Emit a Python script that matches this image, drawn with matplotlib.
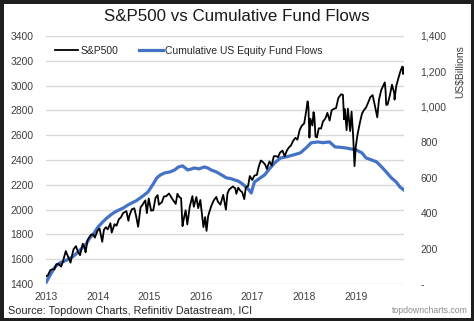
import numpy as np
import pandas as pd
import matplotlib
matplotlib.use("Agg")
import matplotlib.pyplot as plt
import matplotlib.dates as mdates
from matplotlib.ticker import FuncFormatter

plt.rcParams['font.family'] = ['Liberation Sans', 'DejaVu Sans']

# S&P500 (approx. semi-monthly, with the main dips)
spx_dates = [
    "2013-01-02", "2013-01-15", "2013-02-01", "2013-02-15", "2013-03-01", "2013-03-15",
    "2013-04-01", "2013-04-18", "2013-05-01", "2013-05-21", "2013-06-03", "2013-06-24",
    "2013-07-01", "2013-07-15", "2013-08-01", "2013-08-15", "2013-08-30", "2013-09-18",
    "2013-10-01", "2013-10-08", "2013-10-22", "2013-11-15", "2013-12-01", "2013-12-13",
    "2014-01-01", "2014-01-15", "2014-02-03", "2014-02-15", "2014-03-01", "2014-03-14",
    "2014-04-02", "2014-04-11", "2014-05-01", "2014-05-15", "2014-06-01", "2014-06-15",
    "2014-07-01", "2014-07-24", "2014-08-07", "2014-08-15", "2014-09-01", "2014-09-18",
    "2014-10-01", "2014-10-15", "2014-11-01", "2014-11-15", "2014-12-05", "2014-12-16",
    "2014-12-29", "2015-01-15", "2015-01-30", "2015-02-15", "2015-03-02", "2015-03-11",
    "2015-04-01", "2015-04-15", "2015-05-01", "2015-05-21", "2015-06-01", "2015-06-15",
    "2015-07-08", "2015-07-20", "2015-08-01", "2015-08-15", "2015-08-25", "2015-09-01",
    "2015-09-16", "2015-09-28", "2015-10-15", "2015-11-03", "2015-11-13", "2015-12-01",
    "2015-12-14", "2015-12-29", "2016-01-20", "2016-02-01", "2016-02-11", "2016-02-22",
    "2016-03-01", "2016-03-15", "2016-04-01", "2016-04-20", "2016-05-01", "2016-05-19",
    "2016-06-08", "2016-06-27", "2016-07-08", "2016-07-20", "2016-08-01", "2016-08-15",
    "2016-09-01", "2016-09-09", "2016-09-22", "2016-10-07", "2016-10-20", "2016-11-04",
    "2016-11-15", "2016-12-01", "2016-12-13", "2016-12-30", "2017-01-15", "2017-02-01",
    "2017-02-15", "2017-03-01", "2017-03-15", "2017-04-01", "2017-04-13", "2017-05-01",
    "2017-05-17", "2017-06-01", "2017-06-15", "2017-07-01", "2017-07-15", "2017-08-01",
    "2017-08-17", "2017-09-01", "2017-09-15", "2017-10-01", "2017-10-15", "2017-11-01",
    "2017-11-15", "2017-12-01", "2017-12-15", "2018-01-02", "2018-01-15", "2018-01-26",
    "2018-02-01", "2018-02-08", "2018-02-15", "2018-03-01", "2018-03-09", "2018-03-15",
    "2018-03-23", "2018-04-02", "2018-04-15", "2018-05-01", "2018-05-15", "2018-06-01",
    "2018-06-15", "2018-07-01", "2018-07-15", "2018-08-01", "2018-08-15", "2018-09-01",
    "2018-09-20", "2018-10-03", "2018-10-11", "2018-10-17", "2018-10-29", "2018-11-07",
    "2018-11-23", "2018-12-03", "2018-12-14", "2018-12-24", "2019-01-02", "2019-01-15",
    "2019-02-01", "2019-02-15", "2019-03-01", "2019-03-15", "2019-04-01", "2019-04-15",
    "2019-05-01", "2019-05-15", "2019-06-03", "2019-06-15", "2019-07-01", "2019-07-26",
    "2019-08-01", "2019-08-05", "2019-08-15", "2019-09-01", "2019-09-15", "2019-10-01",
    "2019-10-03", "2019-10-15", "2019-11-01", "2019-11-15", "2019-11-27", "2019-12-03",
    "2019-12-06",
]
spx_values = [
    1462, 1472, 1513, 1519, 1518, 1560,
    1562, 1541, 1582, 1666, 1631, 1573,
    1614, 1680, 1706, 1661, 1633, 1725,
    1695, 1656, 1754, 1798, 1800, 1775,
    1831, 1848, 1741, 1838, 1859, 1841,
    1890, 1815, 1883, 1870, 1924, 1937,
    1973, 1988, 1910, 1955, 2003, 2011,
    1946, 1862, 2018, 2039, 2075, 1972,
    2090, 1992, 1995, 2096, 2117, 2040,
    2060, 2106, 2108, 2130, 2111, 2084,
    2046, 2128, 2103, 2092, 1867, 1914,
    1995, 1881, 2023, 2109, 2023, 2102,
    2012, 2078, 1859, 1940, 1829, 1945,
    1978, 2027, 2073, 2102, 2065, 2040,
    2119, 2000, 2130, 2163, 2173, 2187,
    2171, 2128, 2177, 2153, 2141, 2085,
    2180, 2191, 2271, 2239, 2275, 2280,
    2349, 2396, 2385, 2363, 2328, 2388,
    2357, 2430, 2432, 2423, 2460, 2476,
    2430, 2476, 2500, 2519, 2553, 2579,
    2564, 2642, 2675, 2695, 2786, 2873,
    2822, 2581, 2732, 2678, 2786, 2750,
    2588, 2582, 2656, 2654, 2711, 2735,
    2780, 2718, 2801, 2813, 2818, 2901,
    2930, 2925, 2728, 2810, 2641, 2814,
    2633, 2790, 2600, 2351, 2510, 2610,
    2706, 2775, 2803, 2822, 2867, 2907,
    2923, 2850, 2744, 2886, 2964, 3026,
    2953, 2844, 2847, 2926, 3007, 2940,
    2887, 2995, 3066, 3120, 3153, 3093,
    3146,
]

# Cumulative US equity fund flows, US$ billions
flow_dates = [
    "2013-01-02", "2013-02-06", "2013-03-05", "2013-04-08", "2013-05-06", "2013-05-27",
    "2013-06-18", "2013-07-08", "2013-08-15", "2013-09-20", "2013-10-15", "2013-11-06",
    "2013-12-05", "2014-01-04", "2014-02-06", "2014-03-08", "2014-04-07", "2014-05-05",
    "2014-06-01", "2014-07-01", "2014-08-01", "2014-09-01", "2014-10-01", "2014-10-30",
    "2014-12-01", "2014-12-24", "2015-01-30", "2015-02-24", "2015-03-20", "2015-04-20",
    "2015-05-25", "2015-07-01", "2015-07-25", "2015-08-25", "2015-10-01", "2015-10-20",
    "2015-11-17", "2015-12-20", "2016-01-26", "2016-02-20", "2016-03-14", "2016-04-20",
    "2016-05-27", "2016-07-01", "2016-07-28", "2016-08-25", "2016-09-20", "2016-10-12",
    "2016-11-17", "2016-12-08", "2016-12-23", "2017-01-15", "2017-02-20", "2017-03-28",
    "2017-05-01", "2017-06-07", "2017-07-20", "2017-08-30", "2017-10-15", "2017-12-05",
    "2018-01-15", "2018-02-20", "2018-04-08", "2018-05-15", "2018-06-30", "2018-08-08",
    "2018-09-10", "2018-10-25", "2018-12-01", "2019-01-05", "2019-02-15", "2019-03-15",
    "2019-04-25", "2019-05-30", "2019-07-05", "2019-08-05", "2019-09-10", "2019-10-15",
    "2019-11-10", "2019-12-08",
]
flow_values = [
    10, 60, 95, 119, 128, 135,
    145, 153, 180, 209, 230, 260,
    285, 322, 350, 373, 392, 407,
    418, 429, 445, 458, 470, 486,
    505, 520, 565, 599, 615, 627,
    632, 644, 660, 667, 644, 648,
    655, 650, 661, 655, 644, 633,
    616, 599, 596, 588, 582, 571,
    548, 531, 514, 576, 596, 616,
    650, 684, 712, 718, 728, 740,
    768, 797, 802, 798, 802, 774,
    772, 768, 762, 757, 740, 712,
    700, 689, 660, 633, 600, 576,
    548, 531,
]

years = [2013, 2014, 2015, 2016, 2017, 2018, 2019]
left_ticks = [1400, 1600, 1800, 2000, 2200, 2400, 2600, 2800, 3000, 3200, 3400]
right_ticks = [0, 200, 400, 600, 800, 1000, 1200, 1400]

spx_x = pd.to_datetime(spx_dates)
flow_x = pd.to_datetime(flow_dates)

fig = plt.figure(figsize=(4.74, 3.21), dpi=100)
fig.patch.set_edgecolor('#1e1e1e')
fig.patch.set_linewidth(5)

ax = fig.add_axes([0.097, 0.115, 0.755, 0.773])
ax2 = ax.twinx()
ax3 = ax.twinx()

tick_col = '#404040'
for a in (ax, ax2, ax3):
    for s in a.spines.values():
        s.set_visible(False)
    a.tick_params(length=0, labelsize=7.5, colors=tick_col)

ax.set_ylim(1400, 3400)
ax.set_yticks(left_ticks)
ax.grid(axis='y', color='#d9d9d9', linewidth=1)
ax.set_axisbelow(True)
ax.tick_params(axis='y', pad=9)
ax.tick_params(axis='x', pad=6)

ax2.set_ylim(0, 1400)
ax2.set_yticks(right_ticks)
ax2.yaxis.set_major_formatter(FuncFormatter(lambda v, p: '-' if v == 0 else f'{v:,.0f}'))
ax2.tick_params(axis='y', pad=12)

ax3.set_ylim(1400, 3400)
ax3.set_yticks([])

l2, = ax2.plot(flow_x, flow_values, color='#4472c4', linewidth=2.3,
               label='Cumulative US Equity Fund Flows')
l1, = ax3.plot(spx_x, spx_values, color='black', linewidth=1.3, label='S&P500')

ax.set_xlim(pd.Timestamp('2013-01-01'), pd.Timestamp('2019-12-08'))
ax.set_xticks([pd.Timestamp(f'{y}-01-01') for y in years])
ax.xaxis.set_major_formatter(mdates.DateFormatter('%Y'))

ax3.legend([l1, l2], ['S&P500', 'Cumulative US Equity Fund Flows'],
           loc='center left', bbox_to_anchor=(0.115, 0.841), bbox_transform=fig.transFigure,
           ncol=2, frameon=False, fontsize=7.5, handlelength=2.3, handletextpad=0.2,
           columnspacing=2.0, borderaxespad=0, borderpad=0, labelcolor='#262626')

fig.text(0.5, 0.95, 'S&P500 vs Cumulative Fund Flows', ha='center', va='center',
         fontsize=12.2, color='#1a1a1a')
fig.text(0.971, 0.778, 'US$Billions', rotation=90, ha='center', va='center',
         fontsize=7.5, color=tick_col)
fig.text(0.017, 0.031, 'Source: Topdown Charts, Refinitiv Datastream, ICI', ha='left',
         va='center', fontsize=7.8, color='#262626')
fig.text(0.987, 0.034, 'topdowncharts.com', ha='right', va='center', fontsize=6.3,
         color='#8c8c8c')

fig.savefig('out.png', dpi=100, facecolor='white', edgecolor=fig.get_edgecolor())
